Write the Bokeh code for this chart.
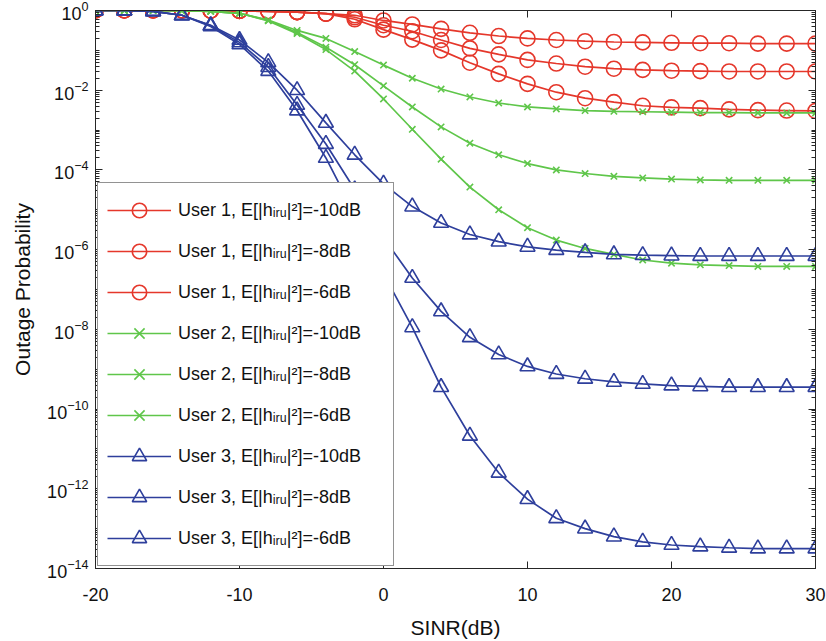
import numpy as np
from bokeh.plotting import figure
from bokeh.models import (FixedTicker, LogAxis, LinearAxis, Legend, LegendItem,
                          CustomJSTickFormatter, PrintfTickFormatter, Range1d)
from bokeh.embed import file_html
from bokeh.resources import INLINE

# ---- data (SINR in dB, outage probability given as log10 values) ----
sinr_db = [-20, -18, -16, -14, -12, -10, -8, -6, -4, -2, 0, 2, 4, 6, 8, 10,
           12, 14, 16, 18, 20, 22, 24, 26, 28, 30]

user1_m10_log = [0, 0, 0, 0, -0.005, -0.01, -0.02, -0.04, -0.08, -0.12, -0.25, -0.35, -0.46,
                 -0.56, -0.64, -0.70, -0.74, -0.77, -0.79, -0.80, -0.81, -0.82, -0.82, -0.83, -0.83, -0.83]
user1_m8_log = [0, 0, 0, 0, -0.005, -0.01, -0.02, -0.04, -0.08, -0.17, -0.37, -0.52, -0.74,
                -0.95, -1.10, -1.24, -1.33, -1.41, -1.46, -1.49, -1.51, -1.52, -1.53, -1.53, -1.53, -1.53]
user1_m6_log = [0, 0, 0, 0, -0.005, -0.01, -0.02, -0.04, -0.08, -0.22, -0.48, -0.73, -1.00,
                -1.31, -1.59, -1.84, -2.05, -2.20, -2.30, -2.39, -2.43, -2.45, -2.48, -2.50, -2.51, -2.52]

user2_m10_log = [0, 0, 0, -0.005, -0.02, -0.07, -0.24, -0.50, -0.70, -1.03, -1.37, -1.70, -1.97,
                 -2.17, -2.32, -2.42, -2.47, -2.51, -2.53, -2.54, -2.55, -2.56, -2.56, -2.57, -2.57, -2.57]
user2_m8_log = [0, 0, 0, -0.005, -0.02, -0.07, -0.25, -0.55, -0.92, -1.36, -1.89, -2.42, -2.92,
                -3.33, -3.62, -3.84, -4.00, -4.09, -4.16, -4.20, -4.23, -4.25, -4.26, -4.26, -4.26, -4.26]
user2_m6_log = [0, 0, 0, -0.005, -0.02, -0.07, -0.26, -0.58, -0.98, -1.52, -2.22, -2.98, -3.73,
                -4.43, -5.00, -5.45, -5.76, -5.97, -6.12, -6.26, -6.34, -6.38, -6.40, -6.42, -6.42, -6.42]

user3_m10_log = [0, 0, -0.02, -0.12, -0.37, -0.74, -1.30, -2.00, -2.82, -3.62, -4.35, -4.92, -5.33,
                 -5.62, -5.80, -5.93, -6.01, -6.07, -6.12, -6.14, -6.15, -6.16, -6.16, -6.16, -6.16, -6.16]
user3_m8_log = [0, 0, -0.02, -0.12, -0.38, -0.80, -1.42, -2.37, -3.35, -4.49, -5.70, -6.71, -7.55,
                -8.20, -8.63, -8.93, -9.12, -9.24, -9.32, -9.37, -9.41, -9.43, -9.45, -9.45, -9.45, -9.45]
user3_m6_log = [0, 0, -0.02, -0.12, -0.40, -0.85, -1.52, -2.51, -3.70, -5.10, -6.60, -7.95, -9.45,
                -10.67, -11.60, -12.26, -12.74, -13.00, -13.20, -13.33, -13.41, -13.45, -13.48, -13.50, -13.50, -13.50]

legend_labels = [
    "User 1, E[|hᵢᵣᵤ|²]=-10dB", "User 1, E[|hᵢᵣᵤ|²]=-8dB", "User 1, E[|hᵢᵣᵤ|²]=-6dB",
    "User 2, E[|hᵢᵣᵤ|²]=-10dB", "User 2, E[|hᵢᵣᵤ|²]=-8dB", "User 2, E[|hᵢᵣᵤ|²]=-6dB",
    "User 3, E[|hᵢᵣᵤ|²]=-10dB", "User 3, E[|hᵢᵣᵤ|²]=-8dB", "User 3, E[|hᵢᵣᵤ|²]=-6dB",
]
x_ticks = [-20, -10, 0, 10, 20, 30]
y_tick_exponents = [0, -2, -4, -6, -8, -10, -12, -14]

series = [user1_m10_log, user1_m8_log, user1_m6_log,
          user2_m10_log, user2_m8_log, user2_m6_log,
          user3_m10_log, user3_m8_log, user3_m6_log]

RED, GREEN, BLUE = "#E5372B", "#5FC64A", "#2E3F9C"
styles = [(RED, "circle", 15)] * 3 + [(GREEN, "x", 9)] * 3 + [(BLUE, "triangle", 15)] * 3

FONT = "Liberation Sans"
TXT = "#262626"

p = figure(width=826, height=641, y_axis_type="log",
           x_range=Range1d(-20, 30), y_range=Range1d(1e-14, 1),
           output_backend="svg", toolbar_location=None,
           min_border_left=95, min_border_right=11, min_border_top=10, min_border_bottom=64)

p.grid.visible = False
p.outline_line_color = TXT
p.outline_line_width = 1

major_y = [10.0 ** e for e in y_tick_exponents]
minor_y = [k * 10.0 ** n for n in range(-14, 0) for k in range(1, 10) if not (k == 1 and n % 2 == 0)]

def style_axis(ax, show_labels):
    ax.axis_line_color = TXT
    ax.major_tick_in = 7
    ax.major_tick_out = 0
    ax.minor_tick_in = 4
    ax.minor_tick_out = 0
    ax.major_tick_line_color = TXT
    ax.minor_tick_line_color = TXT
    ax.major_label_text_font = FONT
    ax.major_label_text_font_size = "18px"
    ax.major_label_text_color = "#111111"
    ax.axis_label_text_font = FONT
    ax.axis_label_text_font_size = "21px"
    ax.axis_label_text_font_style = "normal"
    ax.axis_label_text_color = "#111111"
    if not show_labels:
        ax.formatter = CustomJSTickFormatter(code="return ''")
        ax.major_label_standoff = 0

# bottom x axis
xa = p.xaxis[0]
xa.ticker = FixedTicker(ticks=x_ticks)
style_axis(xa, True)
xa.formatter = PrintfTickFormatter(format="%d")
xa.minor_tick_line_color = None
xa.axis_label = "SINR(dB)"
xa.major_label_standoff = 19
xa.axis_label_standoff = 12

# left y axis
ya = p.yaxis[0]
ya.ticker = FixedTicker(ticks=major_y, minor_ticks=minor_y)
style_axis(ya, True)
ya.axis_label = "Outage Probability"
ya.major_label_standoff = 7
ya.axis_label_standoff = 10

# mirrored top / right axes (box with inward ticks)
top = LinearAxis(ticker=FixedTicker(ticks=x_ticks))
style_axis(top, False)
top.minor_tick_line_color = None
p.add_layout(top, "above")
right = LogAxis(ticker=FixedTicker(ticks=major_y, minor_ticks=minor_y))
style_axis(right, False)
p.add_layout(right, "right")

items = []
for vals, (col, mk, sz), lab in zip(series, styles, legend_labels):
    yv = [10.0 ** v for v in vals]
    rl = p.line(sinr_db, yv, line_color=col, line_width=1.7)
    rs = p.scatter(sinr_db, yv, marker=mk, size=sz, line_color=col,
                   fill_color=None, line_width=1.6)
    items.append(LegendItem(label=lab, renderers=[rl, rs]))

legend = Legend(items=items, location=(2, 2), padding=9, spacing=5,
                glyph_width=64, glyph_height=36, label_height=36,
                label_standoff=7, label_width=206, margin=0,
                label_text_font=FONT, label_text_font_size="18px",
                label_text_color="#111111",
                border_line_color=TXT, border_line_width=1,
                background_fill_color="white", background_fill_alpha=1.0)
p.add_layout(legend)

open("out.html", "w").write(file_html(p, INLINE))
